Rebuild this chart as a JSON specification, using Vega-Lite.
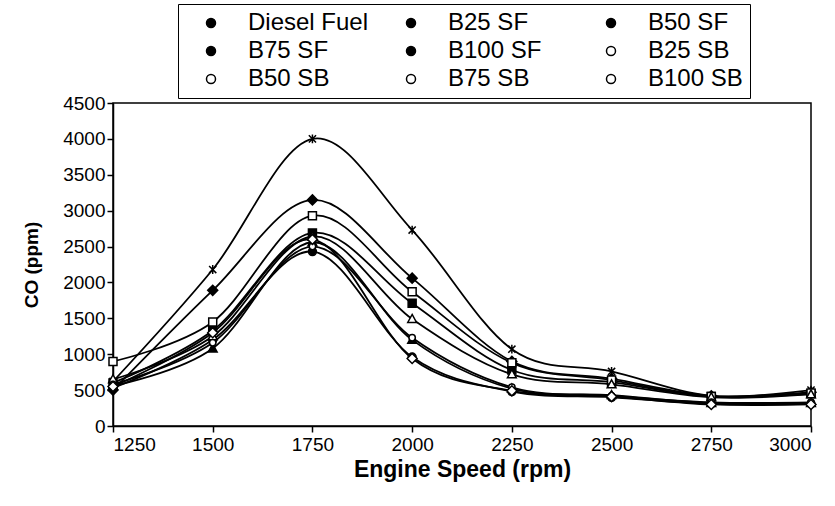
{
  "$schema": "https://vega.github.io/schema/vega-lite/v6.json",
  "width": 698,
  "height": 323,
  "autosize": {"type": "none"},
  "padding": {"left": 113, "top": 103, "right": 24, "bottom": 80},
  "background": "white",
  "config": {
    "font": "Liberation Sans",
    "view": {"stroke": "black", "strokeWidth": 1.5},
    "axis": {
      "grid": false,
      "domainColor": "black",
      "domainWidth": 1.5,
      "tickColor": "black",
      "tickWidth": 1.5,
      "tickSize": 6,
      "labelColor": "black",
      "labelFont": "Liberation Sans",
      "labelFontSize": 19,
      "titleFont": "Liberation Sans",
      "titleFontSize": 19,
      "titleFontWeight": "bold",
      "titleColor": "black"
    }
  },
  "data": {
    "values": [
      {"series": "Diesel Fuel", "rpm": 1250, "co": 620},
      {"series": "Diesel Fuel", "rpm": 1500, "co": 2180},
      {"series": "Diesel Fuel", "rpm": 1750, "co": 4000},
      {"series": "Diesel Fuel", "rpm": 2000, "co": 2730},
      {"series": "Diesel Fuel", "rpm": 2250, "co": 1070},
      {"series": "Diesel Fuel", "rpm": 2500, "co": 760},
      {"series": "Diesel Fuel", "rpm": 2750, "co": 420},
      {"series": "Diesel Fuel", "rpm": 3000, "co": 500},
      {"series": "B25 SF", "rpm": 1250, "co": 600},
      {"series": "B25 SF", "rpm": 1500, "co": 1330},
      {"series": "B25 SF", "rpm": 1750, "co": 2690},
      {"series": "B25 SF", "rpm": 2000, "co": 1710},
      {"series": "B25 SF", "rpm": 2250, "co": 780},
      {"series": "B25 SF", "rpm": 2500, "co": 610},
      {"series": "B25 SF", "rpm": 2750, "co": 410},
      {"series": "B25 SF", "rpm": 3000, "co": 450},
      {"series": "B50 SF", "rpm": 1250, "co": 560},
      {"series": "B50 SF", "rpm": 1500, "co": 1080},
      {"series": "B50 SF", "rpm": 1750, "co": 2560},
      {"series": "B50 SF", "rpm": 2000, "co": 1200},
      {"series": "B50 SF", "rpm": 2250, "co": 520},
      {"series": "B50 SF", "rpm": 2500, "co": 430},
      {"series": "B50 SF", "rpm": 2750, "co": 320},
      {"series": "B50 SF", "rpm": 3000, "co": 320},
      {"series": "B75 SF", "rpm": 1250, "co": 530},
      {"series": "B75 SF", "rpm": 1500, "co": 1200},
      {"series": "B75 SF", "rpm": 1750, "co": 2430},
      {"series": "B75 SF", "rpm": 2000, "co": 960},
      {"series": "B75 SF", "rpm": 2250, "co": 480},
      {"series": "B75 SF", "rpm": 2500, "co": 400},
      {"series": "B75 SF", "rpm": 2750, "co": 310},
      {"series": "B75 SF", "rpm": 3000, "co": 310},
      {"series": "B100 SF", "rpm": 1250, "co": 500},
      {"series": "B100 SF", "rpm": 1500, "co": 1890},
      {"series": "B100 SF", "rpm": 1750, "co": 3150},
      {"series": "B100 SF", "rpm": 2000, "co": 2060},
      {"series": "B100 SF", "rpm": 2250, "co": 900},
      {"series": "B100 SF", "rpm": 2500, "co": 660},
      {"series": "B100 SF", "rpm": 2750, "co": 420},
      {"series": "B100 SF", "rpm": 3000, "co": 470},
      {"series": "B25 SB", "rpm": 1250, "co": 900},
      {"series": "B25 SB", "rpm": 1500, "co": 1450},
      {"series": "B25 SB", "rpm": 1750, "co": 2930},
      {"series": "B25 SB", "rpm": 2000, "co": 1870},
      {"series": "B25 SB", "rpm": 2250, "co": 880},
      {"series": "B25 SB", "rpm": 2500, "co": 640},
      {"series": "B25 SB", "rpm": 2750, "co": 410},
      {"series": "B25 SB", "rpm": 3000, "co": 460},
      {"series": "B50 SB", "rpm": 1250, "co": 650},
      {"series": "B50 SB", "rpm": 1500, "co": 1250},
      {"series": "B50 SB", "rpm": 1750, "co": 2640},
      {"series": "B50 SB", "rpm": 2000, "co": 1490},
      {"series": "B50 SB", "rpm": 2250, "co": 720},
      {"series": "B50 SB", "rpm": 2500, "co": 580},
      {"series": "B50 SB", "rpm": 2750, "co": 400},
      {"series": "B50 SB", "rpm": 3000, "co": 440},
      {"series": "B75 SB", "rpm": 1250, "co": 580},
      {"series": "B75 SB", "rpm": 1500, "co": 1160},
      {"series": "B75 SB", "rpm": 1750, "co": 2500},
      {"series": "B75 SB", "rpm": 2000, "co": 1230},
      {"series": "B75 SB", "rpm": 2250, "co": 540},
      {"series": "B75 SB", "rpm": 2500, "co": 420},
      {"series": "B75 SB", "rpm": 2750, "co": 330},
      {"series": "B75 SB", "rpm": 3000, "co": 330},
      {"series": "B100 SB", "rpm": 1250, "co": 550},
      {"series": "B100 SB", "rpm": 1500, "co": 1300},
      {"series": "B100 SB", "rpm": 1750, "co": 2600},
      {"series": "B100 SB", "rpm": 2000, "co": 940},
      {"series": "B100 SB", "rpm": 2250, "co": 490},
      {"series": "B100 SB", "rpm": 2500, "co": 410},
      {"series": "B100 SB", "rpm": 2750, "co": 300},
      {"series": "B100 SB", "rpm": 3000, "co": 300}
    ]
  },
  "encoding": {
    "x": {
      "field": "rpm",
      "type": "quantitative",
      "scale": {"domain": [1250, 3000], "nice": false, "zero": false},
      "axis": {
        "values": [1250, 1500, 1750, 2000, 2250, 2500, 2750, 3000],
        "format": "d",
        "title": "Engine Speed (rpm)",
        "titleFontSize": 23,
        "labelPadding": 3,
        "titlePadding": 4
      }
    },
    "y": {
      "field": "co",
      "type": "quantitative",
      "scale": {"domain": [0, 4500], "nice": false},
      "axis": {
        "values": [0, 500, 1000, 1500, 2000, 2500, 3000, 3500, 4000, 4500],
        "format": "d",
        "title": "CO (ppm)",
        "labelPadding": 2,
        "titlePadding": 21
      }
    }
  },
  "layer": [
    {
      "mark": {"type": "line", "interpolate": "cardinal", "color": "black", "strokeWidth": 1.8},
      "encoding": {"detail": {"field": "series"}}
    },
    {
      "mark": {"type": "point", "size": 64, "stroke": "black", "strokeWidth": 1.5, "opacity": 1},
      "encoding": {
        "shape": {
          "field": "series",
          "type": "nominal",
          "scale": {
            "domain": ["B25 SF", "Diesel Fuel", "B50 SF", "B75 SF", "B100 SF", "B25 SB", "B50 SB", "B75 SB", "B100 SB"],
            "range": [
              "M-1,-1H1V1H-1Z",
              "M0,-1.1V1.1M-0.9,-0.9L0.9,0.9M-0.9,0.9L0.9,-0.9",
              "M0,-1.15L1.1,0.85H-1.1Z",
              "M-1,0A1,1,0,1,1,1,0A1,1,0,1,1,-1,0Z",
              "M0,-1.25L1.25,0L0,1.25L-1.25,0Z",
              "M-1,-1H1V1H-1Z",
              "M0,-1.15L1.1,0.85H-1.1Z",
              "M-0.8,0A0.8,0.8,0,1,1,0.8,0A0.8,0.8,0,1,1,-0.8,0Z",
              "M0,-1.25L1.25,0L0,1.25L-1.25,0Z"
            ]
          },
          "legend": null
        },
        "fill": {
          "field": "series",
          "type": "nominal",
          "scale": {
            "domain": ["Diesel Fuel", "B25 SF", "B50 SF", "B75 SF", "B100 SF", "B25 SB", "B50 SB", "B75 SB", "B100 SB"],
            "range": ["black", "black", "black", "black", "black", "white", "white", "white", "white"]
          },
          "legend": {
            "title": null,
            "orient": "none",
            "legendX": 65,
            "legendY": -99,
            "direction": "horizontal",
            "columns": 3,
            "gridAlign": "all",
            "columnPadding": 16,
            "rowPadding": 4,
            "padding": 7,
            "strokeColor": "black",
            "labelFont": "Liberation Sans",
            "labelFontSize": 24,
            "labelColor": "black",
            "labelLimit": 300,
            "symbolSize": 81,
            "symbolOffset": 14,
            "labelOffset": 25,
            "symbolStrokeWidth": 1.5,
            "symbolStrokeColor": "black",
            "encode": {
              "symbols": {
                "shape": {
                  "condition": [
                    {"test": "datum.value === 'Diesel Fuel'", "value": "M-5.9,0H5.9M0,-1.1V1.1M-0.9,-0.9L0.9,0.9M-0.9,0.9L0.9,-0.9"},
                    {"test": "datum.value === 'B25 SF'", "value": "M-5.9,0H5.9M-1,-1H1V1H-1Z"},
                    {"test": "datum.value === 'B50 SF'", "value": "M-5.9,0H5.9M0,-1.15L1.1,0.85H-1.1Z"},
                    {"test": "datum.value === 'B75 SF'", "value": "M-5.9,0H5.9M-1,0A1,1,0,1,1,1,0A1,1,0,1,1,-1,0Z"},
                    {"test": "datum.value === 'B100 SF'", "value": "M-5.9,0H5.9M0,-1.25L1.25,0L0,1.25L-1.25,0Z"},
                    {"test": "datum.value === 'B25 SB'", "value": "M-5.9,0H-1M1,0H5.9M-1,-1H1V1H-1Z"},
                    {"test": "datum.value === 'B50 SB'", "value": "M-5.9,0H-0.63M0.63,0H5.9M0,-1.15L1.1,0.85H-1.1Z"},
                    {"test": "datum.value === 'B75 SB'", "value": "M-5.9,0H-0.8M0.8,0H5.9M-0.8,0A0.8,0.8,0,1,1,0.8,0A0.8,0.8,0,1,1,-0.8,0Z"}
                  ],
                  "value": "M-5.9,0H-1.25M1.25,0H5.9M0,-1.25L1.25,0L0,1.25L-1.25,0Z"
                },
                "opacity": {"value": 1},
                "stroke": {"value": "black"},
                "strokeWidth": {"value": 1.5}
              }
            }
          }
        }
      }
    }
  ]
}
